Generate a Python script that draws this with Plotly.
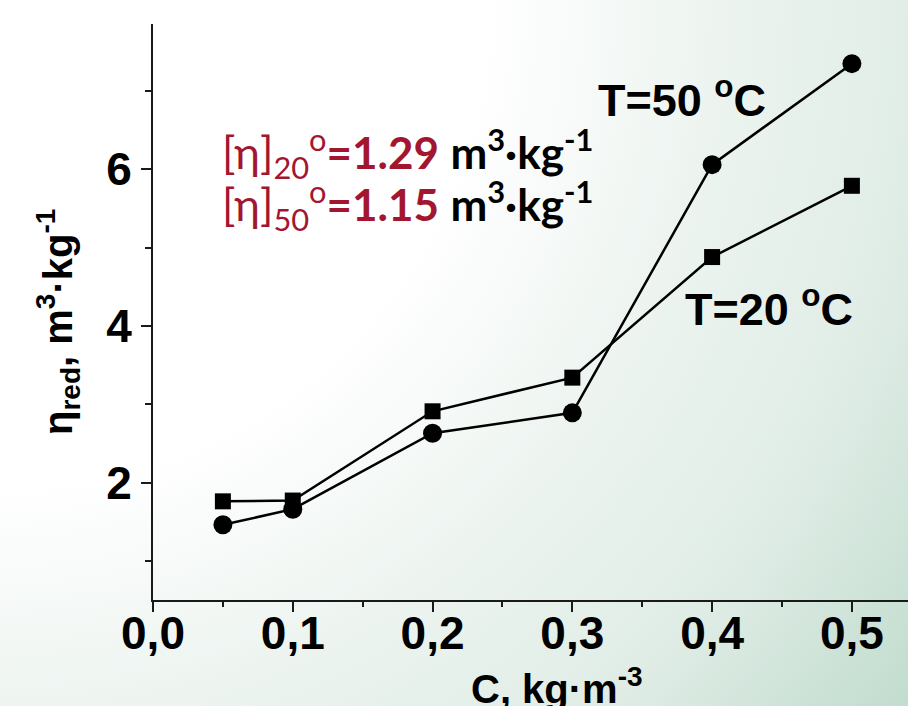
import base64
import plotly.graph_objects as go

# ---- data ----
conc = [0.05, 0.1, 0.2, 0.3, 0.4, 0.5]                 # C, kg·m^-3
eta_red_20 = [1.76, 1.77, 2.91, 3.34, 4.88, 5.79]      # T = 20 °C (squares)
eta_red_50 = [1.46, 1.66, 2.63, 2.89, 6.06, 7.35]      # T = 50 °C (circles)
x_tick_vals = [0.0, 0.1, 0.2, 0.3, 0.4, 0.5]
y_tick_vals = [2, 4, 6]
label_20 = "T=20 <sup>o</sup>C"
label_50 = "T=50 <sup>o</sup>C"
x_title = "C, kg·m<sup>-3</sup>"
y_title = "η<sub>red</sub>, m<sup>3</sup>·kg<sup>-1</sup>"
DARK_RED = "#a3162f"
note_20 = (f"<span style='color:{DARK_RED}'>[η]<sub>20</sub><sup>o</sup><b>=1.29</b></span>"
           " <b>m<sup>3</sup>·kg<sup>-1</sup></b>")
note_50 = (f"<span style='color:{DARK_RED}'>[η]<sub>50</sub><sup>o</sup><b>=1.15</b></span>"
           " <b>m<sup>3</sup>·kg<sup>-1</sup></b>")

# ---- layout geometry ----
W, H = 908, 706
L, R, T, B = 153, 0, 24, 106
PW, PH = W - L - R, H - T - B


def px(xp):
    return (xp - L) / PW


def py(yp):
    return (H - B - yp) / PH


# background gradient (white top-left -> pale green bottom-right)
svg = (
    f"<svg xmlns='http://www.w3.org/2000/svg' width='{W}' height='{H}' viewBox='0 0 {W} {H}' preserveAspectRatio='none'>"
    "<defs><radialGradient id='g' gradientUnits='userSpaceOnUse' cx='0' cy='0' r='1150'>"
    "<stop offset='0' stop-color='#ffffff'/>"
    "<stop offset='0.42' stop-color='#ffffff'/>"
    "<stop offset='0.62' stop-color='#edf4f0'/>"
    "<stop offset='0.8' stop-color='#e0ede6'/>"
    "<stop offset='1' stop-color='#c2dccf'/>"
    "</radialGradient></defs>"
    f"<rect x='0' y='0' width='{W}' height='{H}' fill='url(#g)'/></svg>"
)
bg_uri = "data:image/svg+xml;base64," + base64.b64encode(svg.encode()).decode()

TICK_FONT = dict(family="Liberation Sans, Arial, sans-serif", size=46, color="black", weight="bold")
TITLE_FONT = dict(family="Liberation Sans, Arial, sans-serif", size=40, color="black", weight="bold")
LABEL_FONT = dict(family="Liberation Sans, Arial, sans-serif", size=45, color="black", weight="bold")
NOTE_FONT = dict(family="Lato, 'Noto Sans', sans-serif", size=44, color="black")

fig = go.Figure()
fig.add_trace(go.Scatter(
    x=conc, y=eta_red_20, mode="lines+markers", name="T=20 °C",
    line=dict(color="black", width=2.5),
    marker=dict(symbol="square", size=16, color="black"),
))
fig.add_trace(go.Scatter(
    x=conc, y=eta_red_50, mode="lines+markers", name="T=50 °C",
    line=dict(color="black", width=2.5),
    marker=dict(symbol="circle", size=19, color="black"),
))

x_per_px = 0.45 / (851.7 - 222.7)
y_per_px = 2.0 / (483.3 - 326.7)
x_max = PW * x_per_px
y_min = 0.5
y_max = y_min + PH * y_per_px

axis_common = dict(
    showline=True, linecolor="#1a1a1a", linewidth=2,
    ticks="outside", ticklen=10, tickwidth=2, tickcolor="#1a1a1a",
    showgrid=False, zeroline=False, tickfont=TICK_FONT,
)

fig.update_layout(
    width=W, height=H,
    margin=dict(l=L, r=R, t=T, b=B, pad=0),
    paper_bgcolor="white",
    plot_bgcolor="rgba(0,0,0,0)",
    showlegend=False,
    separators=", ",
    xaxis=dict(range=[0, x_max], tickvals=x_tick_vals, tickformat=".1f",
               ticklabelstandoff=-18,
               minor=dict(ticks="outside", ticklen=5, tickwidth=2, tickcolor="#1a1a1a",
                          tick0=0, dtick=0.05),
               **axis_common),
    yaxis=dict(range=[y_min, y_max], tickvals=y_tick_vals,
               minor=dict(ticks="outside", ticklen=6, tickwidth=2, tickcolor="#1a1a1a",
                          tick0=1, dtick=1),
               **axis_common),
    images=[dict(source=bg_uri, xref="paper", yref="paper",
                 x=px(0), y=py(0), sizex=W / PW, sizey=H / PH,
                 xanchor="left", yanchor="top", sizing="stretch", layer="below")],
    annotations=[
        dict(text=label_50, x=px(596), y=py(97), xref="paper", yref="paper",
             xanchor="left", yanchor="middle", showarrow=False, font=LABEL_FONT),
        dict(text=label_20, x=px(683), y=py(306), xref="paper", yref="paper",
             xanchor="left", yanchor="middle", showarrow=False, font=LABEL_FONT),
        dict(text=note_20, x=px(220), y=py(153), xref="paper", yref="paper",
             xanchor="left", yanchor="middle", showarrow=False, font=NOTE_FONT),
        dict(text=note_50, x=px(220), y=py(205), xref="paper", yref="paper",
             xanchor="left", yanchor="middle", showarrow=False, font=NOTE_FONT),
        dict(text=x_title, x=px(557), y=py(686), xref="paper", yref="paper",
             xanchor="center", yanchor="middle", showarrow=False, font=TITLE_FONT),
        dict(text=y_title, x=px(58), y=py(322), xref="paper", yref="paper",
             xanchor="center", yanchor="middle", showarrow=False, textangle=-90,
             font=TITLE_FONT),
    ],
)

fig.write_html("out.html", config={"displayModeBar": False},
               post_script="document.body.style.margin='0';")
